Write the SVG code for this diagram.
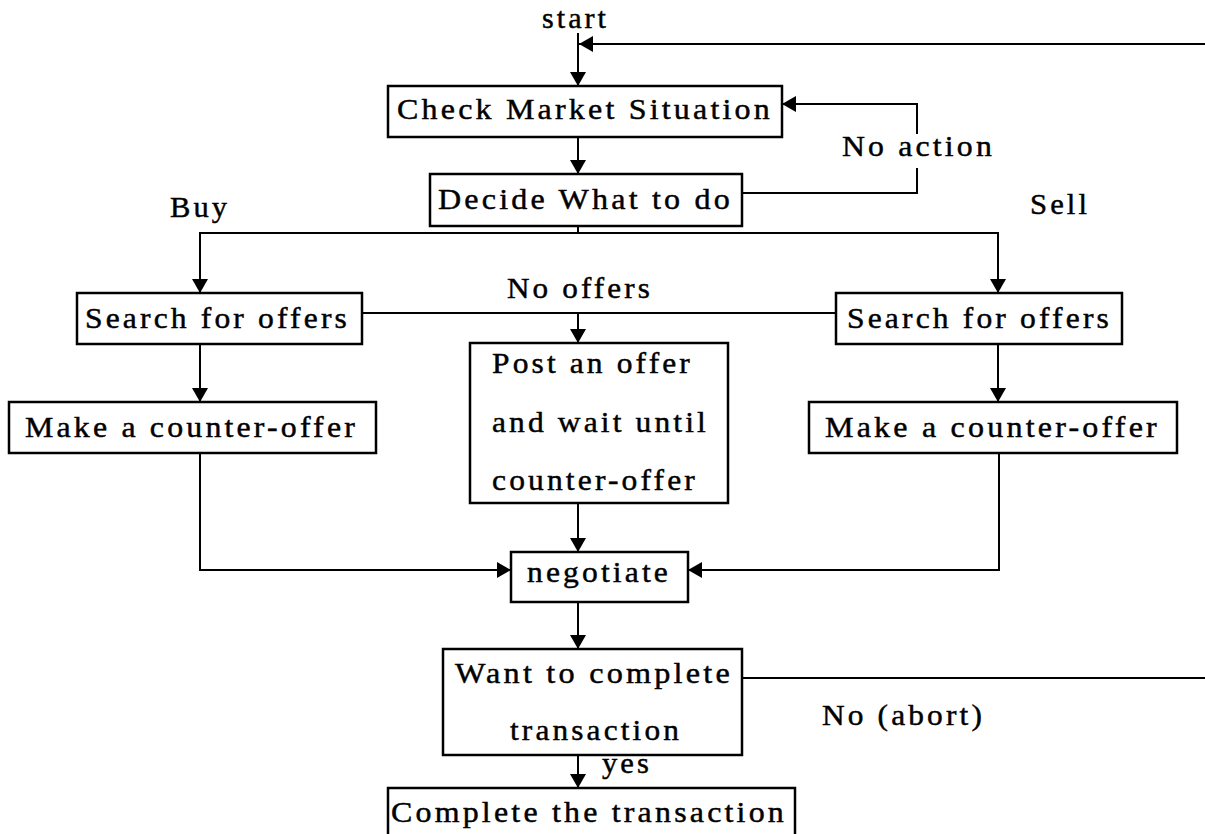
<svg xmlns="http://www.w3.org/2000/svg" width="1205" height="834" viewBox="0 0 1205 834">
  <style>
    .box { fill: #ffffff; stroke: #000000; stroke-width: 2.5; }
    .edge { fill: none; stroke: #000000; stroke-width: 2; }
    text { font-family: "Liberation Serif", serif; font-size: 30px; letter-spacing: 3px; fill: #000000; stroke: #000000; stroke-width: 0.45; }
  </style>
  <defs>
    <marker id="arrow" markerUnits="userSpaceOnUse" markerWidth="16" markerHeight="16" refX="14" refY="8" orient="auto">
      <path d="M0,0 L14,8 L0,16 z" fill="#000000"/>
    </marker>
  </defs>
  <rect width="1205" height="834" fill="#ffffff"/>

  <!-- connectors -->
  <g id="connectors">
    <path class="edge" d="M578,33 V86" marker-end="url(#arrow)"/>
    <path class="edge" d="M1205,44 H579" marker-end="url(#arrow)"/>
    <path class="edge" d="M578,137 V174" marker-end="url(#arrow)"/>
    <path class="edge" d="M742,193 H917 V168"/>
    <path class="edge" d="M917,134 V104 H782" marker-end="url(#arrow)"/>
    <path class="edge" d="M578,226 V233"/>
    <path class="edge" d="M578,233 H200 V293" marker-end="url(#arrow)"/>
    <path class="edge" d="M578,233 H998 V293" marker-end="url(#arrow)"/>
    <path class="edge" d="M362,313 H836"/>
    <path class="edge" d="M578,313 V343" marker-end="url(#arrow)"/>
    <path class="edge" d="M200,344 V402" marker-end="url(#arrow)"/>
    <path class="edge" d="M998,344 V402" marker-end="url(#arrow)"/>
    <path class="edge" d="M578,503 V552" marker-end="url(#arrow)"/>
    <path class="edge" d="M200,453 V570 H511" marker-end="url(#arrow)"/>
    <path class="edge" d="M999,453 V570 H688" marker-end="url(#arrow)"/>
    <path class="edge" d="M578,602 V649" marker-end="url(#arrow)"/>
    <path class="edge" d="M742,678 H1205"/>
    <path class="edge" d="M578,755 V788" marker-end="url(#arrow)"/>
  </g>

  <!-- edge labels -->
  <g id="labels">
    <text x="542" y="28" textLength="67" lengthAdjust="spacingAndGlyphs">start</text>
    <text x="842" y="156" textLength="153" lengthAdjust="spacingAndGlyphs">No action</text>
    <text x="170" y="217" textLength="60" lengthAdjust="spacingAndGlyphs">Buy</text>
    <text x="1030" y="214" textLength="60" lengthAdjust="spacingAndGlyphs">Sell</text>
    <text x="507" y="298" textLength="146" lengthAdjust="spacingAndGlyphs">No offers</text>
    <text x="822" y="725" textLength="163" lengthAdjust="spacingAndGlyphs">No (abort)</text>
    <text x="602" y="773" textLength="50" lengthAdjust="spacingAndGlyphs">yes</text>
  </g>

  <g id="check-market">
    <rect class="box" x="388" y="86" width="394" height="51"/>
    <text x="397" y="119" textLength="376" lengthAdjust="spacingAndGlyphs">Check Market Situation</text>
  </g>

  <g id="decide">
    <rect class="box" x="430" y="174" width="312" height="52"/>
    <text x="438" y="209" textLength="295" lengthAdjust="spacingAndGlyphs">Decide What to do</text>
  </g>

  <g id="buy-search">
    <rect class="box" x="77" y="293" width="285" height="51"/>
    <text x="85" y="328" textLength="265" lengthAdjust="spacingAndGlyphs">Search for offers</text>
  </g>

  <g id="buy-counter">
    <rect class="box" x="9" y="402" width="367" height="51"/>
    <text x="25" y="437" textLength="333" lengthAdjust="spacingAndGlyphs">Make a counter-offer</text>
  </g>

  <g id="sell-search">
    <rect class="box" x="836" y="293" width="286" height="51"/>
    <text x="847" y="328" textLength="265" lengthAdjust="spacingAndGlyphs">Search for offers</text>
  </g>

  <g id="sell-counter">
    <rect class="box" x="809" y="402" width="368" height="51"/>
    <text x="825" y="437" textLength="335" lengthAdjust="spacingAndGlyphs">Make a counter-offer</text>
  </g>

  <g id="post-offer">
    <rect class="box" x="470" y="343" width="258" height="160"/>
    <text x="492" y="373" textLength="201" lengthAdjust="spacingAndGlyphs">Post an offer</text>
    <text x="492" y="432" textLength="217" lengthAdjust="spacingAndGlyphs">and wait until</text>
    <text x="492" y="490" textLength="206" lengthAdjust="spacingAndGlyphs">counter-offer</text>
  </g>

  <g id="negotiate">
    <rect class="box" x="511" y="552" width="177" height="50"/>
    <text x="527" y="582" textLength="144" lengthAdjust="spacingAndGlyphs">negotiate</text>
  </g>

  <g id="want-complete">
    <rect class="box" x="443" y="649" width="299" height="106"/>
    <text x="455" y="683" textLength="278" lengthAdjust="spacingAndGlyphs">Want to complete</text>
    <text x="510" y="740" textLength="172" lengthAdjust="spacingAndGlyphs">transaction</text>
  </g>

  <g id="complete">
    <rect class="box" x="388" y="788" width="407" height="60"/>
    <text x="391" y="822" textLength="396" lengthAdjust="spacingAndGlyphs">Complete the transaction</text>
  </g>
</svg>
